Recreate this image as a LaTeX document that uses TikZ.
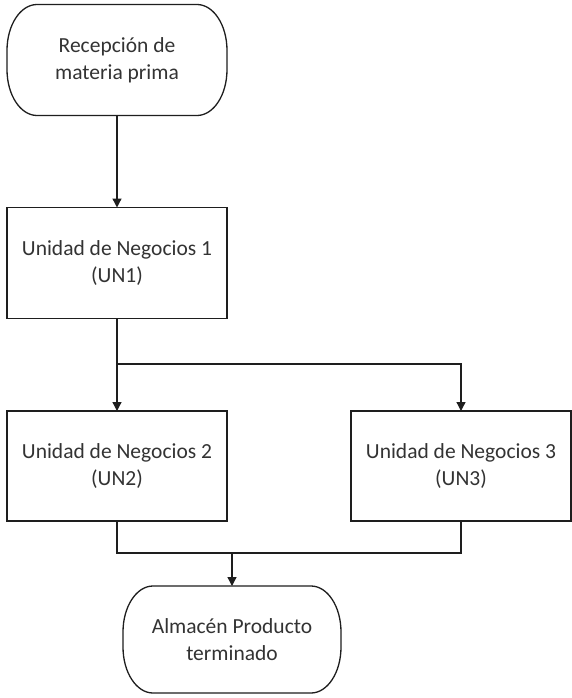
\documentclass[tikz,border=0pt]{standalone}
\usepackage{fontspec}
\setmainfont{Carlito}
\usetikzlibrary{arrows.meta}
\definecolor{inkline}{HTML}{1E1E1E}
\definecolor{inktext}{HTML}{333333}
% outline of a terminator: straight top and bottom, elliptic ends
\newcommand\termoutline[1]{%
  \draw[flow] ([xshift=30pt]#1.north west) -- ([xshift=-30pt]#1.north east)
    arc[start angle=90,end angle=0,x radius=30pt,y radius=46pt]
    -- ([yshift=46pt]#1.south east)
    arc[start angle=0,end angle=-90,x radius=30pt,y radius=46pt]
    -- ([xshift=30pt]#1.south west)
    arc[start angle=270,end angle=180,x radius=30pt,y radius=46pt]
    -- ([yshift=-46pt]#1.north west)
    arc[start angle=180,end angle=90,x radius=30pt,y radius=46pt] -- cycle;}
\begin{document}
\begin{tikzpicture}[x=1pt,y=1pt,
  label text/.style={align=center, text=inktext, inner sep=0pt, outer sep=0pt,
    font=\fontsize{21.5}{27}\selectfont},
  block/.style={label text, draw=inkline, line width=1.3pt, minimum width=220pt,
    minimum height=111pt, outer sep=0pt},
  terminal/.style={label text, minimum width=220pt, minimum height=111pt},
  flow/.style={draw=inkline, line width=1.3pt},
  arrow/.style={flow, -{Triangle[length=9pt,width=9pt]}}]
\useasboundingbox (0,0) rectangle (572,-698);
\fill[white] (0,0) rectangle (572,-698);

\node[terminal] (start) at (117,-60) {Recepción de\\materia prima};
\termoutline{start}
\node[block] (un1) at (117,-263) {Unidad de Negocios 1\\(UN1)};
\node[block, minimum height=110pt] (un2) at (117,-466) {Unidad de Negocios 2\\(UN2)};
\node[block, minimum height=110pt] (un3) at (461,-466) {Unidad de Negocios 3\\(UN3)};
\node[terminal, minimum width=218pt, minimum height=107pt] (end) at (232,-639.5) {Almacén Producto\\terminado};
\termoutline{end}

\coordinate (split) at (117,-364);
\coordinate (join) at (232,-553);

\draw[arrow] (start) -- (un1);
\draw[arrow] (un1) -- (un2);
\draw[arrow] (split) -| (un3.north);
\draw[flow] (un2.south) |- (join) -| (un3.south);
\draw[arrow] (join) -- (end);
\end{tikzpicture}
\end{document}
